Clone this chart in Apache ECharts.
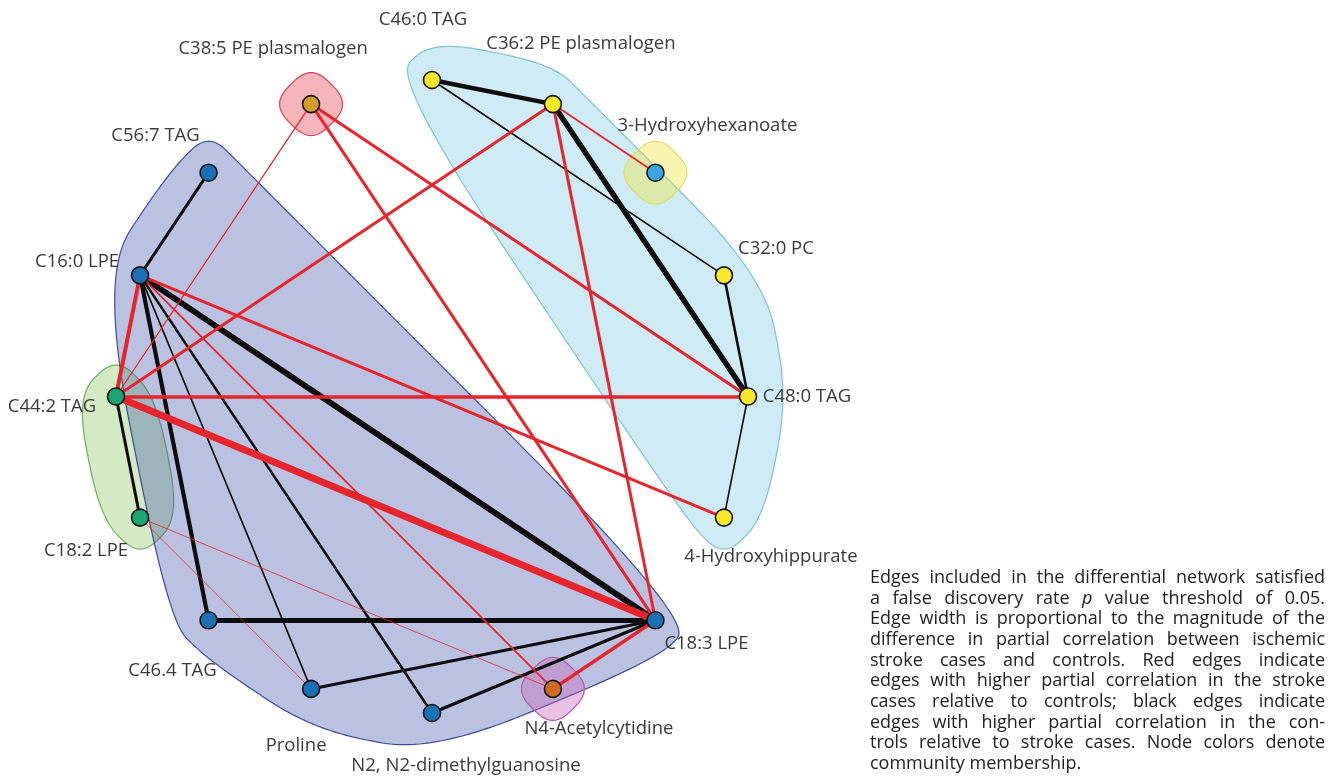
<!DOCTYPE html>
<html>
<head>
<meta charset="utf-8">
<title>Differential metabolite network</title>
<script src="https://cdn.jsdelivr.net/npm/echarts@6/dist/echarts.min.js"></script>
<style>
  html, body { margin: 0; padding: 0; background: #ffffff; }
  #chart { width: 1337px; height: 781px; }
</style>
</head>
<body>
<div id="chart"></div>
<script>
// ---- data ---------------------------------------------------------------
// Metabolites in circle-layout order (counter-clockwise, starting at 3 o'clock)
const nodeNames = [
  'C48:0 TAG', 'C32:0 PC', '3-Hydroxyhexanoate', 'C36:2 PE plasmalogen',
  'C46:0 TAG', 'C38:5 PE plasmalogen', 'C56:7 TAG', 'C16:0 LPE',
  'C44:2 TAG', 'C18:2 LPE', 'C46.4 TAG', 'Proline',
  'N2, N2-dimethylguanosine', 'N4-Acetylcytidine', 'C18:3 LPE', '4-Hydroxyhippurate'
];
// Community membership of each node (same order as nodeNames)
const nodeCommunity = [0, 0, 1, 0, 0, 2, 3, 3, 4, 4, 3, 3, 3, 5, 3, 0];

// Differential edges: endpoints, |difference in partial correlation|, direction
const edgeSource = [
  'C46:0 TAG', 'C46:0 TAG', 'C36:2 PE plasmalogen', 'C32:0 PC', 'C48:0 TAG',
  'C56:7 TAG', 'C16:0 LPE', 'C16:0 LPE', 'C16:0 LPE', 'C16:0 LPE',
  'C44:2 TAG', 'C46.4 TAG', 'Proline', 'N2, N2-dimethylguanosine',
  'C38:5 PE plasmalogen', 'C38:5 PE plasmalogen', 'C38:5 PE plasmalogen',
  'C36:2 PE plasmalogen', 'C36:2 PE plasmalogen', 'C36:2 PE plasmalogen',
  'C16:0 LPE', 'C16:0 LPE', 'C16:0 LPE', 'C44:2 TAG', 'C44:2 TAG',
  'C18:2 LPE', 'C18:2 LPE', 'C18:3 LPE'
];
const edgeTarget = [
  'C36:2 PE plasmalogen', 'C32:0 PC', 'C48:0 TAG', 'C48:0 TAG', '4-Hydroxyhippurate',
  'C16:0 LPE', 'C18:3 LPE', 'C46.4 TAG', 'Proline', 'N2, N2-dimethylguanosine',
  'C18:2 LPE', 'C18:3 LPE', 'C18:3 LPE', 'C18:3 LPE',
  'C44:2 TAG', 'C48:0 TAG', 'C18:3 LPE',
  '3-Hydroxyhexanoate', 'C44:2 TAG', 'C18:3 LPE',
  'C44:2 TAG', '4-Hydroxyhippurate', 'N4-Acetylcytidine', 'C48:0 TAG', 'C18:3 LPE',
  'Proline', 'N4-Acetylcytidine', 'N4-Acetylcytidine'
];
const edgeDiff = [
  0.225, 0.08, 0.275, 0.13, 0.08,
  0.15, 0.30, 0.21, 0.08, 0.13,
  0.15, 0.25, 0.15, 0.16,
  0.065, 0.15, 0.15,
  0.09, 0.15, 0.15,
  0.20, 0.15, 0.09, 0.18, 0.35,
  0.04, 0.04, 0.175
];
// 'case' = higher partial correlation in stroke cases, 'control' = higher in controls
const edgeDirection = [
  'control', 'control', 'control', 'control', 'control',
  'control', 'control', 'control', 'control', 'control',
  'control', 'control', 'control', 'control',
  'case', 'case', 'case',
  'case', 'case', 'case',
  'case', 'case', 'case', 'case', 'case',
  'case', 'case', 'case'
];

const captionLines = [
  'Edges included in the differential network satisfied',
  'a false discovery rate *p* value threshold of 0.05.',
  'Edge width is proportional to the magnitude of the',
  'difference in partial correlation between ischemic',
  'stroke cases and controls. Red edges indicate',
  'edges with higher partial correlation in the stroke',
  'cases relative to controls; black edges indicate',
  'edges with higher partial correlation in the con-',
  'trols relative to stroke cases. Node colors denote',
  'community membership.'
];

// ---- styling ------------------------------------------------------------
const FONT = '"Open Sans", "Noto Sans", sans-serif';
const nodeColors = ['#f7e929', '#3aa6df', '#d39b28', '#1b6fb3', '#1ba570', '#cf6a25'];
const hullFill = [
  'rgba(110,195,225,0.33)', 'rgba(240,230,60,0.40)', 'rgba(232,70,85,0.40)',
  'rgba(60,80,170,0.35)', 'rgba(120,190,80,0.33)', 'rgba(200,110,190,0.42)'
];
const hullStroke = ['#7cc5cf', '#e1dd66', '#de3f55', '#3d4b9c', '#70ae5c', '#b45aa8'];
const hullDrawOrder = [0, 1, 2, 4, 3, 5];
const edgeColor = { case: '#e6252c', control: '#0d0d0d' };
const EDGE_WIDTH_SCALE = 20;
const HULL_EXPAND = 40;   // px, distance of the four expansion points around each node
const HULL_SHAPE = 0.5;   // X-spline shape parameter

// label placement around each node (pixel offset of label centre)
const labelOffset = {
  'C48:0 TAG': [59, 0],
  'C32:0 PC': [52, -27],
  '3-Hydroxyhexanoate': [52, -47],
  'C36:2 PE plasmalogen': [28, -60],
  'C46:0 TAG': [-9, -60],
  'C38:5 PE plasmalogen': [-38, -55],
  'C56:7 TAG': [-53, -37],
  'C16:0 LPE': [-63, -14],
  'C44:2 TAG': [-64, 10],
  'C18:2 LPE': [-54, 33],
  'C46.4 TAG': [-36, 50],
  'Proline': [-15, 57],
  'N2, N2-dimethylguanosine': [34, 53],
  'N4-Acetylcytidine': [46, 40],
  'C18:3 LPE': [51, 23],
  '4-Hydroxyhippurate': [47, 39]
};

// ---- circle layout ------------------------------------------------------
const nodeCount = nodeNames.length;
const nodePos = nodeNames.map(function (_, i) {
  const a = 2 * Math.PI * i / nodeCount;
  return [Math.cos(a), Math.sin(a)];
});

// ---- geometry helpers for community outlines ---------------------------
// Andrew's monotone chain; collinear points are dropped
function convexHull(points) {
  const pts = points.map(function (p) { return [Math.round(p[0] * 1000) / 1000, Math.round(p[1] * 1000) / 1000]; })
    .sort(function (a, b) { return a[0] - b[0] || a[1] - b[1]; });
  const cross = function (o, a, b) {
    return (a[0] - o[0]) * (b[1] - o[1]) - (a[1] - o[1]) * (b[0] - o[0]);
  };
  const lower = [];
  for (let i = 0; i < pts.length; i++) {
    const p = pts[i];
    while (lower.length >= 2 && cross(lower[lower.length - 2], lower[lower.length - 1], p) <= 1e-6) lower.pop();
    lower.push(p);
  }
  const upper = [];
  for (let i = pts.length - 1; i >= 0; i--) {
    const p = pts[i];
    while (upper.length >= 2 && cross(upper[upper.length - 2], upper[upper.length - 1], p) <= 1e-6) upper.pop();
    upper.push(p);
  }
  upper.pop(); lower.pop();
  return lower.concat(upper);
}
// Closed approximating X-spline (Blanc & Schlick), constant shape s > 0
function fBlend(num, den) {
  const p = 2 * den * den;
  const u = num / den;
  return u * u * u * (10 - p + (2 * p - 15) * u + (6 - p) * u * u);
}
function closedXSpline(ctrl, s, steps) {
  const n = ctrl.length;
  const out = [];
  for (let k = 0; k < n; k++) {
    const P = [ctrl[(k - 1 + n) % n], ctrl[k], ctrl[(k + 1) % n], ctrl[(k + 2) % n]];
    for (let j = 0; j < steps; j++) {
      const t = j / steps;
      const A0 = t < s ? fBlend(t - s, -1 - s) : 0;
      const A1 = fBlend(t - 1 - s, -1 - s);
      const A2 = fBlend(t + s, 1 + s);
      const A3 = t > 1 - s ? fBlend(t - 1 + s, 1 + s) : 0;
      const sum = A0 + A1 + A2 + A3;
      out.push([
        (A0 * P[0][0] + A1 * P[1][0] + A2 * P[2][0] + A3 * P[3][0]) / sum,
        (A0 * P[0][1] + A1 * P[1][1] + A2 * P[2][1] + A3 * P[3][1]) / sum
      ]);
    }
  }
  return out;
}

// ---- series -------------------------------------------------------------
const graphNodes = nodeNames.map(function (name, i) {
  return {
    name: name,
    value: nodePos[i],
    itemStyle: { color: nodeColors[nodeCommunity[i]] },
    label: { offset: labelOffset[name] }
  };
});
const graphLinks = edgeSource.map(function (s, i) {
  return {
    source: s,
    target: edgeTarget[i],
    lineStyle: {
      color: edgeColor[edgeDirection[i]],
      width: edgeDiff[i] * EDGE_WIDTH_SCALE
    }
  };
});

const chart = echarts.init(document.getElementById('chart'), null, { renderer: 'canvas' });

const option = {
  backgroundColor: '#ffffff',
  animation: false,
  grid: { left: 116, top: 80, width: 632, height: 633, containLabel: false },
  xAxis: { type: 'value', min: -1, max: 1, show: false },
  yAxis: { type: 'value', min: -1, max: 1, show: false },
  series: [
    {
      type: 'custom',
      coordinateSystem: 'cartesian2d',
      silent: true,
      z: 1,
      data: hullDrawOrder.map(function (c) { return [0, 0, c]; }),
      renderItem: function (params, api) {
        const c = hullDrawOrder[params.dataIndex];
        const pts = [];
        nodeNames.forEach(function (_, i) {
          if (nodeCommunity[i] !== c) return;
          const p = api.coord(nodePos[i]);
          const r = HULL_EXPAND;
          pts.push(p, [p[0] - r, p[1]], [p[0] + r, p[1]], [p[0], p[1] - r], [p[0], p[1] + r]);
        });
        const outline = closedXSpline(convexHull(pts), HULL_SHAPE, 30);
        return {
          type: 'polygon',
          shape: { points: outline },
          style: { fill: hullFill[c], stroke: hullStroke[c], lineWidth: 1.2 }
        };
      }
    },
    {
      type: 'graph',
      coordinateSystem: 'cartesian2d',
      layout: 'none',
      silent: true,
      z: 3,
      symbol: 'circle',
      symbolSize: 17,
      itemStyle: { borderColor: '#161616', borderWidth: 1.6 },
      lineStyle: { opacity: 1, curveness: 0 },
      label: {
        show: true,
        position: 'inside',
        fontFamily: FONT,
        fontSize: 18.5,
        color: '#3a3a3a'
      },
      emphasis: { disabled: true },
      data: graphNodes,
      links: graphLinks
    }
  ]
};
chart.setOption(option);

// ---- justified caption --------------------------------------------------
(function drawCaption() {
  const left = 870, right = 1325, firstY = 578, lineStep = 20.65, size = 18;
  const ctx = document.createElement('canvas').getContext('2d');
  const fontFor = function (italic) { return (italic ? 'italic ' : '') + size + 'px ' + FONT; };
  const measure = function (txt, italic) { ctx.font = fontFor(italic); return ctx.measureText(txt).width; };
  const spaceW = measure(' ', false);
  const elements = [];
  captionLines.forEach(function (line, li) {
    const words = line.split(' ').map(function (w) {
      const it = /^\*.*\*$/.test(w);
      const t = it ? w.slice(1, -1) : w;
      return { text: t, italic: it, w: measure(t, it) };
    });
    const total = words.reduce(function (s, w) { return s + w.w; }, 0);
    const last = li === captionLines.length - 1;
    const gap = last ? spaceW : (right - left - total) / (words.length - 1);
    let x = left;
    const y = firstY + li * lineStep;
    words.forEach(function (w) {
      elements.push({
        type: 'text',
        x: x,
        y: y,
        silent: true,
        style: {
          text: w.text,
          font: fontFor(w.italic),
          fill: '#222222',
          align: 'left',
          verticalAlign: 'middle',
          textAlign: 'left',
          textVerticalAlign: 'middle'
        }
      });
      x += w.w + gap;
    });
  });
  chart.setOption({ graphic: { elements: elements } });
})();
</script>
</body>
</html>
